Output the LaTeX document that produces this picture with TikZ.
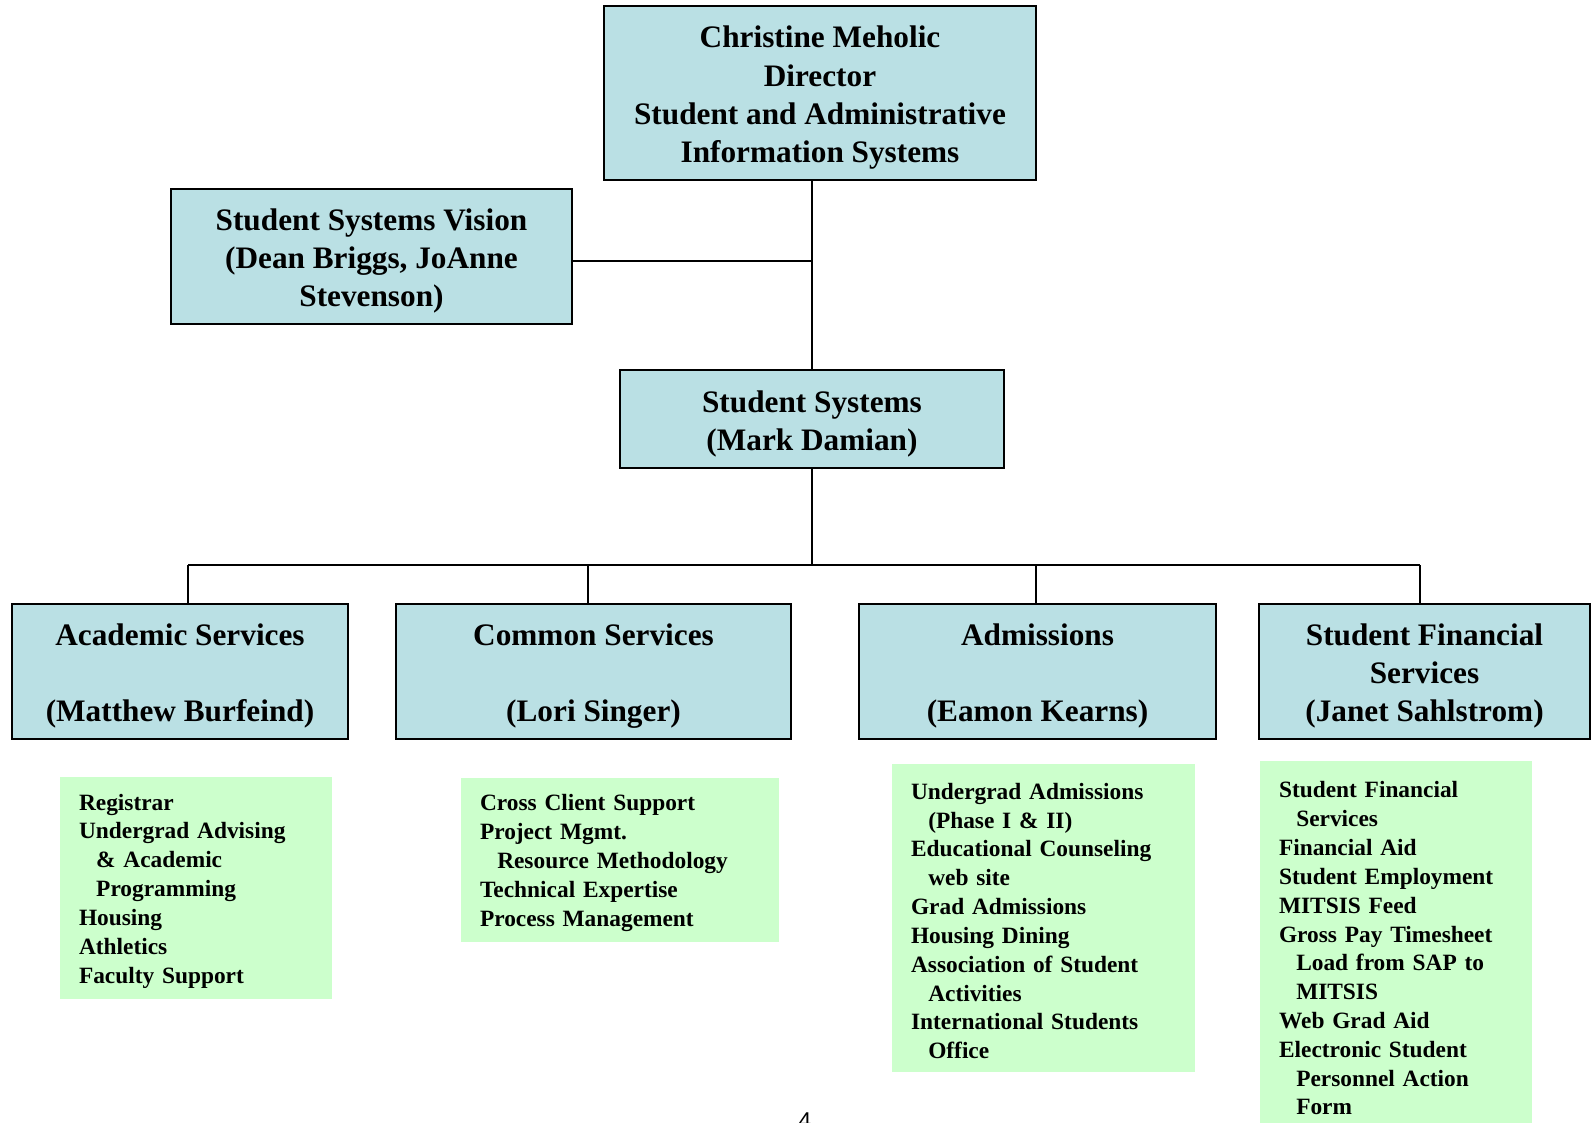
\documentclass[tikz,border=0pt]{standalone}
\usepackage{fontspec}
\setmainfont{Liberation Serif}
\newfontfamily\pagefont{Liberation Sans}
\definecolor{orgblue}{RGB}{186,224,228}
\definecolor{listgreen}{RGB}{204,255,204}
\newcommand{\indt}{\hspace*{9.8pt}}
\newcommand{\tstrut}{\rule{0pt}{17.6pt}}
\tikzset{
  orgbox/.style={draw=black, line width=1.2pt, fill=orgblue, inner sep=0pt, align=center,
    font=\fontsize{17.8}{21.7}\selectfont\bfseries},
  listbox/.style={fill=listgreen, inner xsep=0.38cm, inner ysep=0pt, align=left,
    font=\fontsize{13.3}{16.4}\selectfont\bfseries, execute at begin node={\rule{0pt}{12.6pt}}},
  link/.style={line width=1.1pt}
}
\begin{document}
\begin{tikzpicture}[x=0.02cm, y=-0.02cm]
  \useasboundingbox (0,0) rectangle (1591,1122);
  \node[orgbox, minimum width=8.64cm, minimum height=3.48cm] (dir) at (820,93)
    {\tstrut Christine Meholic\\Director\\Student and Administrative\\Information Systems};
  \node[orgbox, minimum width=8.02cm, minimum height=2.70cm] (vision) at (371.5,256.5)
    {\tstrut Student Systems Vision\\(Dean Briggs, JoAnne\\Stevenson)};
  \node[orgbox, minimum width=7.68cm, minimum height=1.96cm] (ss) at (812,419)
    {\tstrut Student Systems\\(Mark Damian)};
  \node[orgbox, minimum width=6.72cm, minimum height=2.70cm] (acad) at (180,671.5)
    {\tstrut Academic Services\\[21.7pt](Matthew Burfeind)};
  \node[orgbox, minimum width=7.90cm, minimum height=2.70cm] (common) at (593.5,671.5)
    {\tstrut Common Services\\[21.7pt](Lori Singer)};
  \node[orgbox, minimum width=7.14cm, minimum height=2.70cm] (adm) at (1037.5,671.5)
    {\tstrut Admissions\\[21.7pt](Eamon Kearns)};
  \node[orgbox, minimum width=6.62cm, minimum height=2.70cm] (sfs) at (1424.5,671.5)
    {\tstrut Student Financial\\Services\\(Janet Sahlstrom)};

  \node[listbox, text width=4.68cm, minimum height=4.44cm] (acadlist) at (196,888)
    {Registrar\\Undergrad Advising\\\indt\& Academic\\\indt Programming\\Housing\\Athletics\\Faculty Support};
  \node[listbox, text width=5.60cm, minimum height=3.28cm] (commonlist) at (620,860)
    {Cross Client Support\\Project Mgmt.\\\indt Resource Methodology\\Technical Expertise\\Process Management};
  \node[listbox, text width=5.30cm, minimum height=6.16cm] (admlist) at (1043.5,918)
    {Undergrad Admissions\\\indt(Phase I \& II)\\Educational Counseling\\\indt web site\\Grad Admissions\\Housing Dining\\Association of Student\\\indt Activities\\International Students\\\indt Office};
  \node[listbox, text width=4.68cm, minimum height=7.38cm] (sfslist) at (1396,945.5)
    {Student Financial\\\indt Services\\Financial Aid\\Student Employment\\MITSIS Feed\\Gross Pay Timesheet\\\indt Load from SAP to\\\indt MITSIS\\Web Grad Aid\\Electronic Student\\\indt Personnel Action\\\indt Form};

  \node[anchor=north, inner sep=0pt, font=\pagefont\fontsize{13}{15}\selectfont] (pagenum) at (805,1112) {4};

  \coordinate (visj) at (812,261);
  \coordinate (bus) at (812,565);
  \coordinate (d1) at (188,565);
  \coordinate (d2) at (588,565);
  \coordinate (d3) at (1036,565);
  \coordinate (d4) at (1420,565);
  \begin{scope}[link]
    \draw (ss.north) -- (ss.north |- dir.south);
    \draw (visj) -- (visj -| vision.east);
    \draw (ss.south) -- (bus);
    \draw (d1) -- (d4);
    \draw (d1) -- (d1 |- acad.north);
    \draw (d2) -- (d2 |- common.north);
    \draw (d3) -- (d3 |- adm.north);
    \draw (d4) -- (d4 |- sfs.north);
  \end{scope}
\end{tikzpicture}
\end{document}
